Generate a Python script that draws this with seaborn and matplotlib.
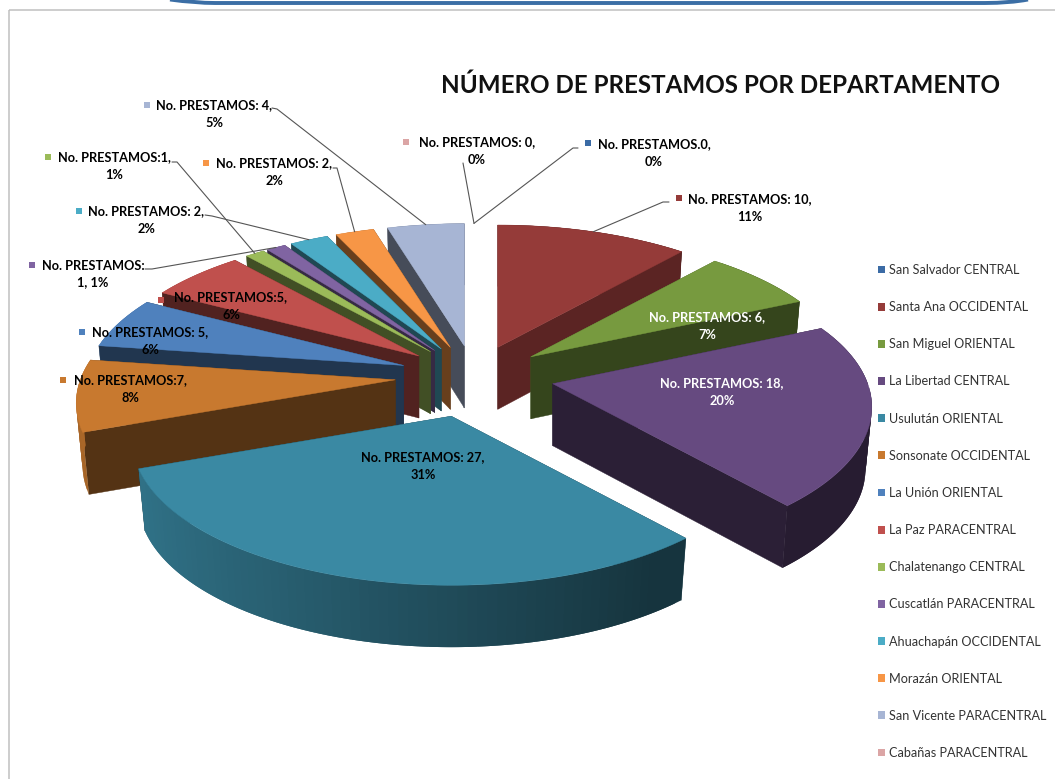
#Numero de prestamos por departamento - exploded 3D pie
import numpy as np
import matplotlib
matplotlib.use("Agg")
import matplotlib.pyplot as plt
import seaborn as sns
from matplotlib.patches import Patch, PathPatch, Rectangle
from matplotlib.path import Path

# Data

departments = ["San Salvador CENTRAL", "Santa Ana OCCIDENTAL", "San Miguel ORIENTAL",
               "La Libertad CENTRAL", "Usulután ORIENTAL", "Sonsonate OCCIDENTAL",
               "La Unión ORIENTAL", "La Paz PARACENTRAL", "Chalatenango CENTRAL",
               "Cuscatlán PARACENTRAL", "Ahuachapán OCCIDENTAL", "Morazán ORIENTAL",
               "San Vicente PARACENTRAL", "Cabañas PARACENTRAL"]
prestamos = [0, 10, 6, 18, 27, 7, 5, 5, 1, 1, 2, 2, 4, 0]
labels = ["No. PRESTAMOS.0,\n0%", "No. PRESTAMOS: 10,\n11%", "No. PRESTAMOS: 6,\n7%",
          "No. PRESTAMOS: 18,\n20%", "No. PRESTAMOS: 27,\n31%", "No. PRESTAMOS:7,\n8%",
          "No. PRESTAMOS: 5,\n6%", "No. PRESTAMOS:5,\n6%", "No. PRESTAMOS:1,\n1%",
          "No. PRESTAMOS:\n1, 1%", "No. PRESTAMOS: 2,\n2%", "No. PRESTAMOS: 2,\n2%",
          "No. PRESTAMOS: 4,\n5%", "No. PRESTAMOS: 0,\n0%"]
title = "NÚMERO DE PRESTAMOS POR DEPARTAMENTO"

# Styles and layout (pixels of the 1055x779 picture)

top_colors = ["#3b6ba5", "#953b39", "#779a3f", "#664a80", "#3a89a3", "#c8792f", "#4f81bd",
              "#c0504d", "#9bbb59", "#8064a2", "#4bacc6", "#f79646", "#a7b5d4", "#dba5a5"]
label_colors = ["black", "black", "white", "white"] + ["black"] * 10
label_xy = [(654, 153), (750, 208), (707, 326), (722, 392), (423, 466), (130, 389), (150, 341),
            (231, 306), (114, 166), (93, 274), (146, 220), (274, 172), (214, 114), (477, 151)]
key_xy = [(588, 143), (679, 198), None, None, None, (63, 380), (82, 332),
          (161, 300), (48, 157), (32, 265), (79, 211), (206, 163), (147, 105), (406, 142)]
# leader lines: the label end, then they run on to the rim of the slice
elbows = {0: [(578, 148), (573, 148)], 1: [(669, 202), (663, 202)], 8: [(172, 162), (177, 162)],
          9: [(145, 269), (152, 269)], 10: [(205, 215), (212, 216)], 11: [(333, 168), (337, 168)],
          12: [(272, 108), (277, 109)], 13: [(463, 163)]}

CX, CY = 474, 376
RX, RY, PERSP = 315, 142, 0.16
EXPLODE = 0.247
HEIGHT = 62
BOTTOM_SCALE = 0.98

sns.set_theme(style="white")
plt.rcParams["font.family"] = ["Lato", "DejaVu Sans"]

fig, ax = plt.subplots(figsize=(10.55, 7.79), dpi=100)
ax.set_position([0, 0, 1, 1])
ax.set_xlim(0, 1055)
ax.set_ylim(779, 0)
ax.axis("off")

rgb = sns.color_palette(top_colors)


def local(theta, r=1.0):
    # angle is clockwise from 12 o'clock, far side of the disc comes out smaller
    x, y = np.sin(theta), np.cos(theta)
    w = 1 + PERSP * y
    return RX * r * x / w, -RY * r * y / w


def shade(color, f):
    return tuple(c * f for c in color)


# slice angles come from the values
edges = np.concatenate([[0], np.cumsum(prestamos)]) / sum(prestamos) * 2 * np.pi
mids = (edges[:-1] + edges[1:]) / 2
apex = [(CX + EXPLODE * local(m)[0], CY + EXPLODE * local(m)[1]) for m in mids]


def top_pt(i, theta):
    dx, dy = local(theta)
    return apex[i][0] + dx, apex[i][1] + dy


def low_pt(i, theta):
    dx, dy = local(theta)
    h = HEIGHT / (1 + 0.05 * np.cos(theta))
    return apex[i][0] + BOTTOM_SCALE * dx, apex[i][1] + BOTTOM_SCALE * dy + h


def radial_face(i, theta, color):
    a = apex[i]
    f = 0.42
    if np.sin(theta) > 0 and np.cos(theta) > 0:
        f = 0.38 + 0.4 * np.cos(theta) ** 2  # faces on the upper right catch more light
    pts = [a, top_pt(i, theta), low_pt(i, theta), (a[0], a[1] + HEIGHT)]
    ax.fill(*zip(*pts), color=shade(color, f), lw=0.3)


def rim(i, thetas, color):
    # each strip runs over the next one so no seams show
    for n in range(len(thetas) - 1):
        t0, t1 = thetas[n], thetas[min(n + 2, len(thetas) - 1)]
        f = max(0.38, 0.55 - 0.30 * np.sin(thetas[n]))
        span = np.linspace(t0, t1, 4)
        pts = [top_pt(i, t) for t in span] + [low_pt(i, t) for t in span[::-1]]
        ax.fill(*zip(*pts), color=shade(color, f), lw=0)


# back slices first so the front ones cover them
order = sorted(range(len(prestamos)), key=lambda n: -np.cos(mids[n]))
for i in order:
    if prestamos[i] == 0:
        continue
    t0, t1 = edges[i], edges[i + 1]
    thetas = np.linspace(t0, t1, max(3, int(np.degrees(t1 - t0) / 1.5)))
    color = rgb[i]

    back = thetas[np.cos(thetas) >= 0]
    front = thetas[np.cos(thetas) <= 0]
    if len(back) > 1:
        rim(i, back, color)
    if np.sin(t0) >= 0:
        radial_face(i, t0, color)
    if np.sin(t1) <= 0:
        radial_face(i, t1, color)
    if np.sin(t0) < 0:
        radial_face(i, t0, color)
    if np.sin(t1) > 0:
        radial_face(i, t1, color)
    if len(front) > 1:
        rim(i, front, color)
    top = [apex[i]] + [top_pt(i, t) for t in thetas]
    ax.fill(*zip(*top), color=color, lw=0.3)

# Leader lines

for i, pts in elbows.items():
    end = top_pt(i, mids[i])
    xs, ys = zip(*(pts + [end]))
    ax.plot(xs, ys, color="#555555", lw=0.8, zorder=4)

# Labels

for i, text in enumerate(labels):
    ax.text(*label_xy[i], text, ha="center", va="center", multialignment="center",
            fontsize=9.15, fontweight="bold", color=label_colors[i], linespacing=1.5, zorder=6)
    if key_xy[i] is not None:
        ax.scatter(*key_xy[i], marker="s", s=24, color=rgb[i], linewidths=0, zorder=5)

ax.text(441, 85, title, ha="left", va="center", fontsize=17.4, fontweight="bold", color="#111111")

handles = [Patch(facecolor=c, edgecolor="none") for c in rgb]
ax.legend(handles, departments, loc="upper left", bbox_to_anchor=(878 / 1055, 1 - 264 / 779),
          frameon=False, fontsize=9.1, handlelength=0.58, handleheight=0.58, handletextpad=0.3,
          labelspacing=1.99, borderpad=0, borderaxespad=0, labelcolor="#333333")

# Slide frame and banner edge

ax.add_patch(Rectangle((8.5, 10), 1100, 1000, fill=False, edgecolor="#c0c0c0", lw=1.1, zorder=0))
banner = Path([(170, -0.5), (195, 3), (215, 3), (985, 3), (1010, 3), (1028, -0.5)],
              [Path.MOVETO, Path.CURVE3, Path.CURVE3, Path.LINETO, Path.CURVE3, Path.CURVE3])
ax.add_patch(PathPatch(banner, fill=False, edgecolor="#3b6ea5", lw=2.8, zorder=1))

fig.savefig("out.png", dpi=100, facecolor="white")
